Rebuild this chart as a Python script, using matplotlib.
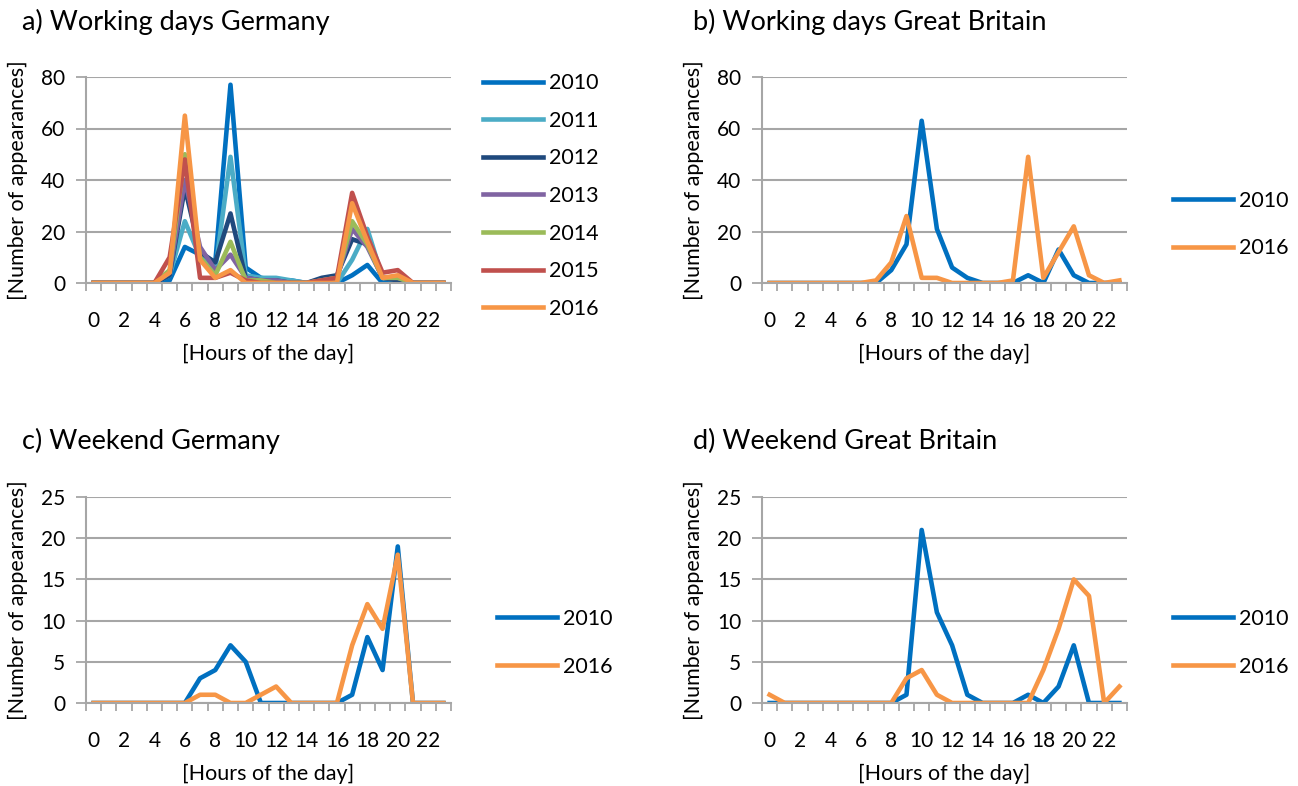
import matplotlib
matplotlib.use("Agg")
import matplotlib.pyplot as plt
import numpy as np

plt.rcParams['font.family'] = ['Lato', 'DejaVu Sans']

hours = list(range(24))
hour_ticks = list(range(0, 24, 2))

# a) Working days Germany
wd_de_2010 = [0, 0, 0, 0, 0, 1, 14, 11, 8, 77, 6, 2, 1, 1, 0, 0, 0, 3, 7, 0, 1, 0, 0, 0]
wd_de_2011 = [0, 0, 0, 0, 0, 3, 24, 10, 5, 49, 3, 2, 2, 1, 0, 0, 0, 9, 21, 2, 1, 0, 0, 0]
wd_de_2012 = [0, 0, 0, 0, 0, 3, 37, 12, 8, 27, 2, 1, 1, 0, 0, 2, 3, 17, 15, 2, 1, 0, 0, 0]
wd_de_2013 = [0, 0, 0, 0, 0, 4, 40, 14, 5, 11, 2, 1, 1, 0, 0, 1, 2, 21, 14, 2, 2, 0, 0, 0]
wd_de_2014 = [0, 0, 0, 0, 0, 5, 50, 10, 3, 16, 1, 1, 0, 0, 0, 1, 2, 24, 15, 2, 2, 0, 0, 0]
wd_de_2015 = [0, 0, 0, 0, 0, 10, 48, 2, 2, 4, 1, 0, 0, 0, 0, 1, 2, 35, 18, 4, 5, 0, 0, 0]
wd_de_2016 = [0, 0, 0, 0, 0, 4, 65, 9, 2, 5, 0, 0, 0, 0, 0, 0, 0, 31, 16, 2, 3, 0, 0, 0]

# b) Working days Great Britain
wd_gb_2010 = [0, 0, 0, 0, 0, 0, 0, 0, 5, 15, 63, 21, 6, 2, 0, 0, 0, 3, 0, 13, 3, 0, 0, 0]
wd_gb_2016 = [0, 0, 0, 0, 0, 0, 0, 1, 8, 26, 2, 2, 0, 0, 0, 0, 1, 49, 2, 12, 22, 3, 0, 1]

# c) Weekend Germany
we_de_2010 = [0, 0, 0, 0, 0, 0, 0, 3, 4, 7, 5, 0, 0, 0, 0, 0, 0, 1, 8, 4, 19, 0, 0, 0]
we_de_2016 = [0, 0, 0, 0, 0, 0, 0, 1, 1, 0, 0, 1, 2, 0, 0, 0, 0, 7, 12, 9, 18, 0, 0, 0]

# d) Weekend Great Britain
we_gb_2010 = [0, 0, 0, 0, 0, 0, 0, 0, 0, 1, 21, 11, 7, 1, 0, 0, 0, 1, 0, 2, 7, 0, 0, 0]
we_gb_2016 = [1, 0, 0, 0, 0, 0, 0, 0, 0, 3, 4, 1, 0, 0, 0, 0, 0, 0, 4, 9, 15, 13, 0, 2]

years_a = ['2010', '2011', '2012', '2013', '2014', '2015', '2016']
colors_a = ['#0070C0', '#4BACC6', '#1F497D', '#8064A2', '#9BBB59', '#C0504D', '#F79646']
series_a = [wd_de_2010, wd_de_2011, wd_de_2012, wd_de_2013, wd_de_2014, wd_de_2015, wd_de_2016]

W, H = 1298, 786
fig = plt.figure(figsize=(W / 100, H / 100), dpi=100)

GRID = '#A6A6A6'
TICKFS = 15
LABFS = 15.5
LEGFS = 15.5
TITLEFS = 19.5


def make_ax(left_px, top_px, right_px, bottom_px):
    return fig.add_axes([left_px / W, 1 - bottom_px / H, (right_px - left_px) / W, (bottom_px - top_px) / H])


def style(ax, ymax, ystep):
    ax.set_xlim(-0.5, 23.5)
    ax.set_ylim(0, ymax)
    ax.set_yticks(np.arange(0, ymax + 1, ystep))
    ax.set_xticks(hour_ticks)
    ax.set_xticks(np.arange(-0.5, 24, 1), minor=True)
    ax.tick_params(axis='x', which='major', length=0, labelsize=TICKFS, pad=20)
    ax.tick_params(axis='x', which='minor', length=6, width=1.3, color=GRID, direction='out')
    ax.tick_params(axis='y', which='major', length=7, width=1.3, color=GRID, labelsize=TICKFS, pad=8)
    ax.grid(axis='y', color=GRID, linewidth=1.5)
    ax.set_axisbelow(True)
    for s in ['top', 'right']:
        ax.spines[s].set_visible(False)
    for s in ['left', 'bottom']:
        ax.spines[s].set_color(GRID)
        ax.spines[s].set_linewidth(1.5)
    ax.set_xlabel('[Hours of the day]', fontsize=LABFS)
    ax.set_ylabel('[Number of appearances]', fontsize=LABFS)
    ax.xaxis.set_label_coords(0.5, -0.296)
    ax.yaxis.set_label_coords(-0.159, 0.5)


def legend(ax, x_px, y_px, spacing):
    ax.legend(loc='center left', bbox_to_anchor=(x_px / W, 1 - y_px / H), bbox_transform=fig.transFigure,
              frameon=False, fontsize=LEGFS, borderaxespad=0, borderpad=0,
              handlelength=2.8, labelspacing=spacing, handletextpad=0.26)


lw = 3.3

# Panel a
ax1 = make_ax(86, 77, 451, 283)
for s, c, y in zip(series_a, colors_a, years_a):
    ax1.plot(hours, s, color=c, lw=lw, label=y)
style(ax1, 80, 20)
legend(ax1, 483, 196, 0.82)

# Panel b
ax2 = make_ax(762, 77, 1127, 283)
ax2.plot(hours, wd_gb_2010, color=colors_a[0], lw=lw, label='2010')
ax2.plot(hours, wd_gb_2016, color=colors_a[6], lw=lw, label='2016')
style(ax2, 80, 20)
legend(ax2, 1173, 224.5, 1.3)

# Panel c
ax3 = make_ax(86, 497, 451, 703)
ax3.plot(hours, we_de_2010, color=colors_a[0], lw=lw, label='2010')
ax3.plot(hours, we_de_2016, color=colors_a[6], lw=lw, label='2016')
style(ax3, 25, 5)
legend(ax3, 497, 643, 1.3)

# Panel d
ax4 = make_ax(762, 497, 1127, 703)
ax4.plot(hours, we_gb_2010, color=colors_a[0], lw=lw, label='2010')
ax4.plot(hours, we_gb_2016, color=colors_a[6], lw=lw, label='2016')
style(ax4, 25, 5)
legend(ax4, 1173, 643, 1.3)

fig.text(22 / W, 1 - 22 / H, 'a) Working days Germany', fontsize=TITLEFS, va='center', ha='left')
fig.text(693 / W, 1 - 22 / H, 'b) Working days Great Britain', fontsize=TITLEFS, va='center', ha='left')
fig.text(22 / W, 1 - 441 / H, 'c) Weekend Germany', fontsize=TITLEFS, va='center', ha='left')
fig.text(693 / W, 1 - 441 / H, 'd) Weekend Great Britain', fontsize=TITLEFS, va='center', ha='left')

fig.savefig('out.png', dpi=100, facecolor='white')
